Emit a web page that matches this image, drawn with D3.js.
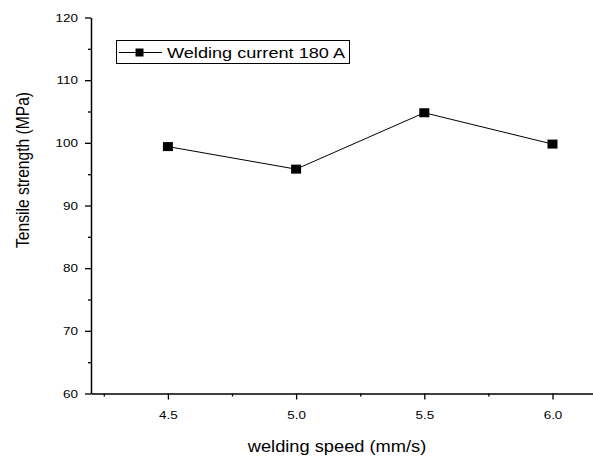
<!DOCTYPE html>
<html>
<head>
<meta charset="utf-8">
<script src="https://cdn.jsdelivr.net/npm/d3@7"></script>
<style>
  body { margin: 0; background: #fff; }
  svg text { font-family: "Liberation Sans", Arial, sans-serif; fill: #000; }
</style>
</head>
<body>
<svg id="chart" width="593" height="461"></svg>
<script>
const speeds = [4.5, 5.0, 5.5, 6.0];
const strength = [99.4, 95.8, 104.8, 99.8];
const xTicks = [4.5, 5.0, 5.5, 6.0];
const xMinor = [4.25, 4.75, 5.25, 5.75];
const yTicks = [60, 70, 80, 90, 100, 110, 120];
const yMinor = [65, 75, 85, 95, 105, 115];
const seriesName = 'Welding current 180 A';

// the reference is a bit stretched sideways, so text gets a small x scale
const sx = 1.17;

const svg = d3.select('#chart');
const x = d3.scaleLinear().domain([4.2, 6.158]).range([91, 593]);
const y = d3.scaleLinear().domain([60, 120]).range([393.5, 17.5]);

// axes
const xAxis = svg.append('g').attr('transform', 'translate(0,393.5)')
  .call(d3.axisBottom(x).tickValues(xTicks).tickFormat(d3.format('.1f')).tickSize(6).tickSizeOuter(0));
svg.append('g').attr('transform', 'translate(0,393.5)')
  .call(d3.axisBottom(x).tickValues(xMinor).tickFormat('').tickSize(3).tickSizeOuter(0))
  .select('.domain').remove();

const yAxis = svg.append('g').attr('transform', 'translate(91,0)')
  .call(d3.axisLeft(y).tickValues(yTicks).tickSize(6).tickSizeOuter(0));
svg.append('g').attr('transform', 'translate(91,0)')
  .call(d3.axisLeft(y).tickValues(yMinor).tickFormat('').tickSize(3).tickSizeOuter(0))
  .select('.domain').remove();

svg.selectAll('.domain').attr('stroke', '#000').attr('stroke-width', 1.5);
svg.selectAll('.tick line').attr('stroke', '#000').attr('stroke-width', 1.3);
xAxis.selectAll('text').attr('font-size', 11.5).attr('y', 0).attr('dy', null)
  .attr('transform', `translate(0,25) scale(${sx},1)`);
yAxis.selectAll('text').attr('font-size', 11.5).attr('x', 0)
  .attr('transform', `translate(-13,0) scale(${sx},1)`);

// titles
svg.append('text').attr('transform', `translate(337,452) scale(${sx},1)`).attr('text-anchor', 'middle')
  .attr('font-size', 15.6).text('welding speed (mm/s)');
svg.append('text').attr('transform', `translate(29,170) scale(${sx},1) rotate(-90)`).attr('text-anchor', 'middle')
  .attr('font-size', 15.6).text('Tensile strength (MPa)');

// series
const pts = speeds.map((s, i) => [s, strength[i]]);
svg.append('path').datum(pts)
  .attr('fill', 'none').attr('stroke', '#000').attr('stroke-width', 1)
  .attr('d', d3.line().x(d => x(d[0])).y(d => y(d[1])));
svg.selectAll('.pt').data(pts).enter().append('rect')
  .attr('class', 'pt')
  .attr('x', d => x(d[0]) - 5).attr('y', d => y(d[1]) - 4.5)
  .attr('width', 10).attr('height', 9).attr('fill', '#000');

// legend
const lg = svg.append('g');
lg.append('rect').attr('x', 116.5).attr('y', 40.5).attr('width', 233).attr('height', 23)
  .attr('fill', '#fff').attr('stroke', '#000').attr('stroke-width', 1);
lg.append('line').attr('x1', 119).attr('x2', 162).attr('y1', 52.5).attr('y2', 52.5)
  .attr('stroke', '#000').attr('stroke-width', 1);
lg.append('rect').attr('x', 135.5).attr('y', 48.5).attr('width', 8).attr('height', 8).attr('fill', '#000');
lg.append('text').attr('transform', `translate(167,58) scale(${sx},1)`).attr('font-size', 15.5).text(seriesName);
</script>
</body>
</html>
